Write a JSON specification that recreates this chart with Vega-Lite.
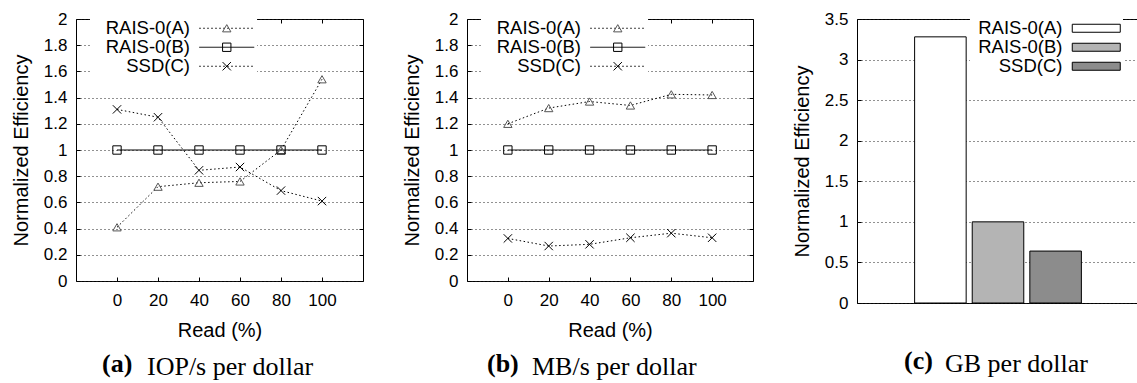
{
  "$schema": "https://vega.github.io/schema/vega-lite/v6.json",
  "background": "white",
  "padding": {"left": 10, "top": 9, "right": 0, "bottom": 0},
  "spacing": 37,
  "resolve": {
    "scale": {"x": "independent", "y": "independent", "strokeDash": "independent", "shape": "independent", "stroke": "independent", "fill": "independent"},
    "legend": {"strokeDash": "independent", "shape": "independent", "stroke": "independent", "fill": "independent"}
  },
  "config": {
    "view": {"stroke": "black", "strokeWidth": 1},
    "axis": {
      "labelFont": "Liberation Sans", "labelFontSize": 17, "labelColor": "black", "labelOverlap": false,
      "titleFont": "Liberation Sans", "titleFontSize": 20, "titleFontWeight": "normal", "titleColor": "black",
      "ticks": true, "tickSize": -4, "tickColor": "black", "tickWidth": 1, "domain": false, "labelPadding": 13,
      "gridColor": "#222222", "gridDash": [1, 3], "gridOpacity": 1, "gridWidth": 1
    },
    "axisX": {"titlePadding": 12, "labelPadding": 15},
    "axisY": {"titlePadding": 12},
    "legend": {"labelFont": "Liberation Sans", "labelFontSize": 18.5, "labelColor": "black"},
    "title": {"font": "Liberation Serif", "fontSize": 26, "color": "black"}
  },
  "datasets": {
    "a": [
      {"read": 0, "efficiency": 0.41, "series": "RAIS-0(A)"},
      {"read": 20, "efficiency": 0.72, "series": "RAIS-0(A)"},
      {"read": 40, "efficiency": 0.75, "series": "RAIS-0(A)"},
      {"read": 60, "efficiency": 0.76, "series": "RAIS-0(A)"},
      {"read": 80, "efficiency": 1.0, "series": "RAIS-0(A)"},
      {"read": 100, "efficiency": 1.54, "series": "RAIS-0(A)"},
      {"read": 0, "efficiency": 1.0, "series": "RAIS-0(B)"},
      {"read": 20, "efficiency": 1.0, "series": "RAIS-0(B)"},
      {"read": 40, "efficiency": 1.0, "series": "RAIS-0(B)"},
      {"read": 60, "efficiency": 1.0, "series": "RAIS-0(B)"},
      {"read": 80, "efficiency": 1.0, "series": "RAIS-0(B)"},
      {"read": 100, "efficiency": 1.0, "series": "RAIS-0(B)"},
      {"read": 0, "efficiency": 1.31, "series": "SSD(C)"},
      {"read": 20, "efficiency": 1.25, "series": "SSD(C)"},
      {"read": 40, "efficiency": 0.845, "series": "SSD(C)"},
      {"read": 60, "efficiency": 0.87, "series": "SSD(C)"},
      {"read": 80, "efficiency": 0.69, "series": "SSD(C)"},
      {"read": 100, "efficiency": 0.61, "series": "SSD(C)"}
    ],
    "b": [
      {"read": 0, "efficiency": 1.2, "series": "RAIS-0(A)"},
      {"read": 20, "efficiency": 1.32, "series": "RAIS-0(A)"},
      {"read": 40, "efficiency": 1.37, "series": "RAIS-0(A)"},
      {"read": 60, "efficiency": 1.34, "series": "RAIS-0(A)"},
      {"read": 80, "efficiency": 1.425, "series": "RAIS-0(A)"},
      {"read": 100, "efficiency": 1.42, "series": "RAIS-0(A)"},
      {"read": 0, "efficiency": 1.0, "series": "RAIS-0(B)"},
      {"read": 20, "efficiency": 1.0, "series": "RAIS-0(B)"},
      {"read": 40, "efficiency": 1.0, "series": "RAIS-0(B)"},
      {"read": 60, "efficiency": 1.0, "series": "RAIS-0(B)"},
      {"read": 80, "efficiency": 1.0, "series": "RAIS-0(B)"},
      {"read": 100, "efficiency": 1.0, "series": "RAIS-0(B)"},
      {"read": 0, "efficiency": 0.325, "series": "SSD(C)"},
      {"read": 20, "efficiency": 0.267, "series": "SSD(C)"},
      {"read": 40, "efficiency": 0.28, "series": "SSD(C)"},
      {"read": 60, "efficiency": 0.33, "series": "SSD(C)"},
      {"read": 80, "efficiency": 0.365, "series": "SSD(C)"},
      {"read": 100, "efficiency": 0.33, "series": "SSD(C)"}
    ],
    "c": [
      {"series": "RAIS-0(A)", "efficiency": 3.28},
      {"series": "RAIS-0(B)", "efficiency": 1.0},
      {"series": "SSD(C)", "efficiency": 0.64}
    ]
  },
  "hconcat": [
    {
      "title": {"text": "(a)", "orient": "bottom", "anchor": "start", "frame": "group", "fontWeight": "bold", "dx": 26, "offset": -30},
      "resolve": {"legend": {"strokeDash": "independent", "shape": "independent", "stroke": "independent"}},
      "vconcat": [
        {
          "width": 287, "height": 262,
          "data": {"name": "a"},
          "title": {"text": "IOP/s per dollar", "orient": "bottom", "anchor": "start", "frame": "group", "fontWeight": "normal", "dx": 71, "offset": 14},
          "resolve": {"axis": {"x": "independent", "y": "independent"}},
          "layer": [
            {
              "mark": {"type": "line", "color": "black", "strokeWidth": 1},
              "encoding": {
                "x": {"field": "read", "type": "quantitative", "scale": {"domain": [-20, 120], "nice": false, "zero": false}, "axis": {"values": [0, 20, 40, 60, 80, 100], "format": "d", "title": "Read (%)", "grid": false}},
                "y": {"field": "efficiency", "type": "quantitative", "scale": {"domain": [0, 2], "nice": false}, "axis": {"values": [0, 0.2, 0.4, 0.6, 0.8, 1, 1.2, 1.4, 1.6, 1.8, 2], "format": "~g", "title": "Normalized Efficiency", "grid": true}},
                "strokeDash": {"field": "series", "type": "nominal", "scale": {"domain": ["RAIS-0(A)", "RAIS-0(B)", "SSD(C)"], "range": [[1.5, 2.5], [1, 0], [1.5, 2.5]]},
                  "legend": {"title": null, "orient": "none", "legendX": 14, "legendY": 0, "padding": 0, "fillColor": "white", "symbolType": "M-6,0H6", "symbolSize": 84, "symbolStrokeColor": "black", "symbolStrokeWidth": 1, "labelAlign": "right", "rowPadding": 0, "symbolOffset": 127.5, "labelOffset": -46, "zindex": 1}}
              }
            },
            {
              "mark": {"type": "point", "filled": false, "strokeWidth": 1, "size": 70, "opacity": 1},
              "encoding": {
                "x": {"field": "read", "type": "quantitative", "axis": {"orient": "top", "values": [0, 20, 40, 60, 80, 100], "labels": false, "title": null, "grid": false}},
                "y": {"field": "efficiency", "type": "quantitative", "axis": {"orient": "right", "values": [0, 0.2, 0.4, 0.6, 0.8, 1, 1.2, 1.4, 1.6, 1.8, 2], "labels": false, "title": null, "grid": false}},
                "shape": {"field": "series", "type": "nominal", "scale": {"range": ["triangle-up", "square", "M-1,-1L1,1M-1,1L1,-1"]},
                  "legend": {"title": null, "orient": "none", "legendX": 14, "legendY": 0, "padding": 0, "labelAlign": "right", "labelOpacity": 0, "rowPadding": 0, "symbolOffset": 127.5, "labelOffset": -45, "symbolSize": 70, "symbolStrokeWidth": 1, "symbolFillColor": "transparent", "zindex": 2}},
                "stroke": {"field": "series", "type": "nominal", "scale": {"range": ["#555555", "#000000", "#000000"]}}
              }
            }
          ]
        }
      ]
    },
    {
      "title": {"text": "(b)", "orient": "bottom", "anchor": "start", "frame": "group", "fontWeight": "bold", "dx": 20, "offset": -30},
      "resolve": {"legend": {"strokeDash": "independent", "shape": "independent", "stroke": "independent"}},
      "vconcat": [
        {
          "width": 286, "height": 262,
          "data": {"name": "b"},
          "title": {"text": "MB/s per dollar", "orient": "bottom", "anchor": "start", "frame": "group", "fontWeight": "normal", "dx": 65, "offset": 14},
          "resolve": {"axis": {"x": "independent", "y": "independent"}},
          "layer": [
            {
              "mark": {"type": "line", "color": "black", "strokeWidth": 1},
              "encoding": {
                "x": {"field": "read", "type": "quantitative", "scale": {"domain": [-20, 120], "nice": false, "zero": false}, "axis": {"values": [0, 20, 40, 60, 80, 100], "format": "d", "title": "Read (%)", "grid": false}},
                "y": {"field": "efficiency", "type": "quantitative", "scale": {"domain": [0, 2], "nice": false}, "axis": {"values": [0, 0.2, 0.4, 0.6, 0.8, 1, 1.2, 1.4, 1.6, 1.8, 2], "format": "~g", "title": "Normalized Efficiency", "grid": true}},
                "strokeDash": {"field": "series", "type": "nominal", "scale": {"domain": ["RAIS-0(A)", "RAIS-0(B)", "SSD(C)"], "range": [[1.5, 2.5], [1, 0], [1.5, 2.5]]},
                  "legend": {"title": null, "orient": "none", "legendX": 14, "legendY": 0, "padding": 0, "fillColor": "white", "symbolType": "M-6,0H6", "symbolSize": 84, "symbolStrokeColor": "black", "symbolStrokeWidth": 1, "labelAlign": "right", "rowPadding": 0, "symbolOffset": 127.5, "labelOffset": -46, "zindex": 1}}
              }
            },
            {
              "mark": {"type": "point", "filled": false, "strokeWidth": 1, "size": 70, "opacity": 1},
              "encoding": {
                "x": {"field": "read", "type": "quantitative", "axis": {"orient": "top", "values": [0, 20, 40, 60, 80, 100], "labels": false, "title": null, "grid": false}},
                "y": {"field": "efficiency", "type": "quantitative", "axis": {"orient": "right", "values": [0, 0.2, 0.4, 0.6, 0.8, 1, 1.2, 1.4, 1.6, 1.8, 2], "labels": false, "title": null, "grid": false}},
                "shape": {"field": "series", "type": "nominal", "scale": {"range": ["triangle-up", "square", "M-1,-1L1,1M-1,1L1,-1"]},
                  "legend": {"title": null, "orient": "none", "legendX": 14, "legendY": 0, "padding": 0, "labelAlign": "right", "labelOpacity": 0, "rowPadding": 0, "symbolOffset": 127.5, "labelOffset": -45, "symbolSize": 70, "symbolStrokeWidth": 1, "symbolFillColor": "transparent", "zindex": 2}},
                "stroke": {"field": "series", "type": "nominal", "scale": {"range": ["#555555", "#000000", "#000000"]}}
              }
            }
          ]
        }
      ]
    },
    {
      "title": {"text": "(c)", "orient": "bottom", "anchor": "start", "frame": "group", "fontWeight": "bold", "dx": 47, "offset": -30},
      "resolve": {"legend": {"fill": "independent"}},
      "vconcat": [
        {
          "width": 282, "height": 284,
          "data": {"name": "c"},
          "title": {"text": "GB per dollar", "orient": "bottom", "anchor": "start", "frame": "group", "fontWeight": "normal", "dx": 88, "offset": 40},
          "mark": {"type": "bar", "stroke": "black", "strokeWidth": 1},
          "encoding": {
            "x": {"field": "series", "type": "nominal", "sort": null, "scale": {"paddingInner": 0.105, "paddingOuter": 1.0175, "align": 0.5}, "axis": null},
            "y": {"field": "efficiency", "type": "quantitative", "scale": {"domain": [0, 3.5], "nice": false}, "axis": {"values": [0, 0.5, 1, 1.5, 2, 2.5, 3, 3.5], "format": "~g", "title": "Normalized Efficiency", "grid": true}},
            "fill": {"field": "series", "type": "nominal", "scale": {"range": ["#ffffff", "#b4b4b4", "#8c8c8c"]},
              "legend": {"title": null, "orient": "none", "legendX": 113, "legendY": 0, "padding": 0, "fillColor": "white", "symbolType": "M-6,-1H6V1H-6Z", "symbolSize": 64, "symbolStrokeColor": "black", "symbolStrokeWidth": 1, "symbolOpacity": 1, "labelAlign": "right", "rowPadding": 0, "symbolOffset": 117, "labelOffset": -43}}
          }
        }
      ]
    }
  ]
}
